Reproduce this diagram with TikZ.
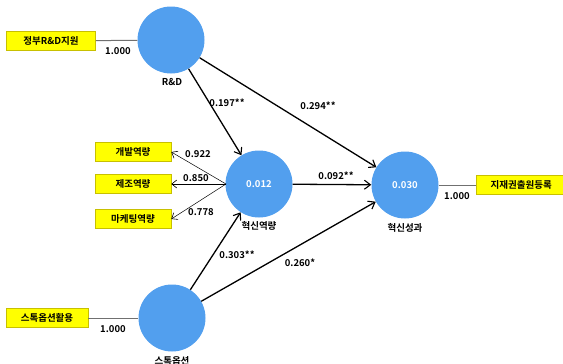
\documentclass[tikz,border=0pt]{standalone}
\usepackage{fontspec}
\setmainfont{Noto Sans CJK KR}[BoldFont={* Bold}]
\usetikzlibrary{arrows.meta}
\definecolor{cblue}{HTML}{529FEE}
\definecolor{yfill}{HTML}{FFFF00}
\definecolor{ydraw}{HTML}{C8C000}
\definecolor{lgray}{HTML}{707070}
\begin{document}
\begin{tikzpicture}[x=1pt,y=-1pt,
  font=\fontsize{9.5}{11}\selectfont\bfseries,
  lv/.style={circle,fill=cblue,draw=none,minimum size=67pt,inner sep=0pt,text=white},
  ind/.style={rectangle,fill=yfill,draw=ydraw,line width=0.6pt,minimum height=19pt,inner sep=2pt,text=black},
  lbl/.style={inner sep=0pt,text=black},
  path/.style={line width=1.3pt,-{Straight Barb[length=6pt,width=9pt,line width=1.1pt]}},
  load/.style={line width=0.5pt,-{Straight Barb[length=5pt,width=8pt,line width=0.6pt]}},
  meas/.style={line width=1pt,draw=lgray}]
\useasboundingbox (0,0) rectangle (563,364);
% latent variables
\node[lv] (rd) at (171,40) {};
\node[lv] (cap) at (259,184) {0.012};
\node[lv] (perf) at (405,185) {0.030};
\node[lv] (so) at (172,318) {};
\node[lbl] (rdl) at (172,82) {R\&D};
\node[lbl] (capl) at (259,226) {혁신역량};
\node[lbl] (perfl) at (405,228) {혁신성과};
\node[lbl] (sol) at (172,361) {스톡옵션};
% indicators
\node[ind,minimum width=89pt] (gov) at (51,41) {정부R\&D지원};
\node[ind,minimum width=76pt] (dev) at (133,152) {개발역량};
\node[ind,minimum width=76pt] (mfg) at (133,184) {제조역량};
\node[ind,minimum width=76pt] (mkt) at (133,219) {마케팅역량};
\node[ind,minimum width=90pt,anchor=west] (pat) at (476,185) {지재권출원등록};
\node[ind,minimum width=82pt] (sou) at (47,318) {스톡옵션활용};
% measurement lines
\draw[meas] (gov) -- (rd);
\draw[meas] (perf) -- (pat);
\draw[meas] (sou) -- (so);
\node[lbl] at (118,51) {1.000};
\node[lbl] at (457,196) {1.000};
\node[lbl] at (113,329) {1.000};
% loadings
\coordinate (cw) at (226,184);
\draw[load] (cw) -- (dev.east);
\draw[load] (cw) -- (mfg.east);
\draw[load] (cw) -- (mkt.east);
\node[lbl] at (198,154) {0.922};
\node[lbl] at (196,178) {0.850};
\node[lbl] at (201,212) {0.778};
% structural paths
\draw[path] (rd) -- (cap);
\draw[path] (rd) -- (perf);
\draw[path] (cap) -- (perf);
\draw[path] (so) -- (cap);
\draw[path] (so) -- (perf);
\node[lbl] at (227,103) {0.197**};
\node[lbl] at (318,106) {0.294**};
\node[lbl] at (336,176) {0.092**};
\node[lbl] at (237,255) {0.303**};
\node[lbl] at (300,263) {0.260*};
\end{tikzpicture}
\end{document}
